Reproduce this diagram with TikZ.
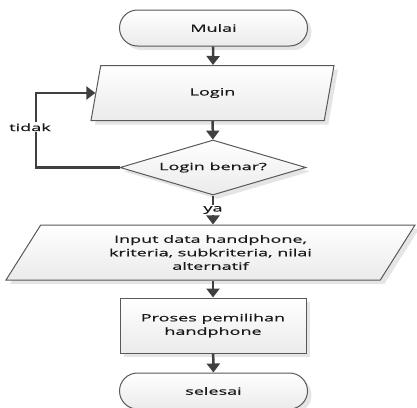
\documentclass[tikz,border=0pt]{standalone}
\usepackage{fontspec}
\setmainfont{Open Sans}[FakeStretch=1.8,FakeBold=0.6]
\usetikzlibrary{shapes.geometric,shadows,arrows.meta}

\tikzset{
  box/.style={draw=black!65, line width=1pt, top color=white, bottom color=black!8,
    text=black!90, font=\fontsize{10}{13.5}\selectfont, align=center, inner sep=0pt,
    drop shadow={shadow xshift=4pt, shadow yshift=-4pt, fill=black!10, opacity=1}},
  terminal/.style={box, rounded corners=18pt, minimum width=188pt, minimum height=36pt},
  io/.style={box, trapezium, trapezium left angle=45, trapezium right angle=135,
    trapezium stretches body, minimum height=55pt},
  decision/.style={box, diamond, aspect=3.4, minimum width=186pt, minimum height=55pt},
  process/.style={box, minimum width=186pt, minimum height=55pt},
  arr/.style={draw=black!75, line width=2.5pt, -{Triangle[width=13pt,length=9pt]}},
  lbl/.style={fill=white, text=black!90, font=\fontsize{10}{12}\selectfont, inner sep=1pt}
}

\begin{document}
\begin{tikzpicture}[x=1pt,y=-1pt]
  \useasboundingbox (0,0) rectangle (417,407);
  \node[terminal] (mulai) at (213.5,28) {Mulai};
  \node[io, minimum width=243pt] (login) at (212.5,93) {Login};
  \node[decision] (cek) at (213,167.5) {Login benar?};
  \node[io, minimum width=409pt] (input) at (210.5,252.5) {Input data handphone,\\kriteria, subkriteria, nilai\\alternatif};
  \node[process] (proses) at (213,325.5) {Proses pemilihan\\handphone};
  \node[terminal] (selesai) at (213.5,391) {selesai};
  \coordinate (balik) at (36,167.5);
  \draw[arr] (mulai) -- (login);
  \draw[arr] (login) -- (cek);
  \draw[arr] (cek) -- node[lbl]{ya} (cek |- input.north);
  \draw[arr] (input.south -| proses.north) -- (proses);
  \draw[arr] (proses) -- (selesai);
  \draw[arr] (cek.west) -- (balik) |- node[lbl, pos=0.27, xshift=-6pt]{tidak} (login.west);
\end{tikzpicture}
\end{document}
